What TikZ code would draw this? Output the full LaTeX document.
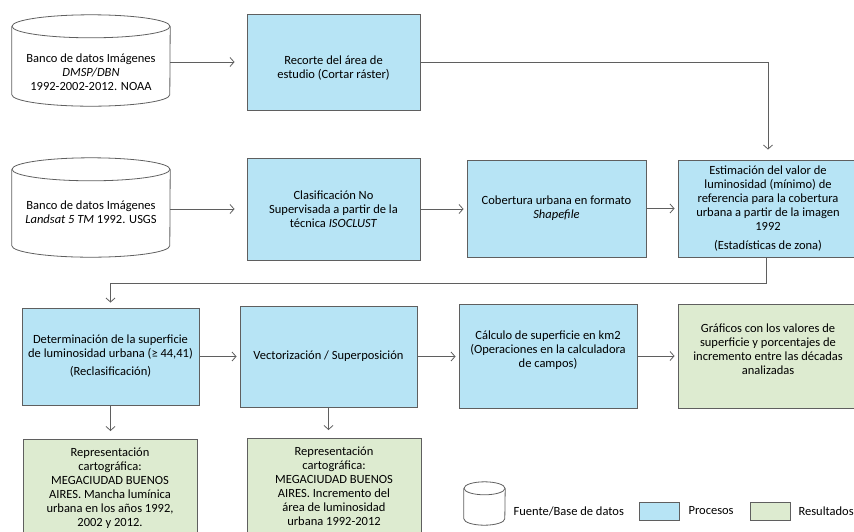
\documentclass[tikz,border=0pt]{standalone}
\usepackage{fontspec}
\setmainfont{Carlito}
\usetikzlibrary{arrows.meta}
\definecolor{procblue}{RGB}{183,228,245}
\definecolor{resgreen}{RGB}{221,235,208}
\definecolor{edgegray}{RGB}{95,95,95}

% cilindro de base de datos alrededor de un nodo: nombre, radio x, radio y
\newcommand\dbdraw[3]{%
  \draw[dbline] ([yshift=#3pt]#1.north) ellipse[x radius=#2pt, y radius=#3pt];
  \draw[dbline] ([yshift=#3pt]#1.north west) -- ([yshift=#3pt]#1.south west)
    arc[start angle=180, end angle=360, x radius=#2pt, y radius=#3pt] -- ([yshift=#3pt]#1.north east);
}

\begin{document}
\begin{tikzpicture}[x=1pt, y=-1pt, >={Straight Barb[length=4pt,width=9pt]}, font=\fontsize{12.5}{14}\selectfont,
  proc/.style={draw=edgegray, fill=procblue, line width=0.9pt, align=center, inner sep=2pt},
  res/.style={draw=edgegray, fill=resgreen, line width=0.9pt, align=center, inner sep=8pt},
  db/.style={align=center, inner sep=0pt},
  dbline/.style={draw=edgegray, line width=0.8pt},
  link/.style={draw=edgegray, line width=0.8pt, ->}]

\useasboundingbox (0,0) rectangle (854,531);
\clip (0,0) rectangle (854,531);

%fuentes
\node[db, minimum width=158pt, minimum height=68pt] (dmsp) at (91,72) {Banco de datos Imágenes\\\textit{DMSP/DBN}\\1992-2002-2012. NOAA};
\dbdraw{dmsp}{79}{11.5}
\node[db, minimum width=158pt, minimum height=76pt] (landsat) at (91,219) {Banco de datos Imágenes\\\textit{Landsat 5 TM} 1992. USGS\\\mbox{}};
\dbdraw{landsat}{79}{11.5}

%procesos
\node[proc, minimum width=173pt, minimum height=96pt] (recorte) at (333.5,62) {\mbox{}\\[6pt]Recorte del área de\\estudio (Cortar ráster)};
\node[proc, minimum width=173pt, minimum height=102pt] (clasif) at (333.5,209) {Clasificación No\\Supervisada a partir de la\\técnica \textit{ISOCLUST}};
\node[proc, minimum width=179pt, minimum height=97pt] (cobert) at (556.5,208.5) {Cobertura urbana en formato\\\textit{Shapefile}};
\node[proc, minimum width=180pt, minimum height=97pt] (estim) at (768,208.5) {Estimación del valor de\\luminosidad (mínimo) de\\referencia para la cobertura\\urbana a partir de la imagen\\1992\\[5pt](Estadísticas de zona)};
\node[proc, minimum width=177pt, minimum height=97pt] (determ) at (110.5,356.5) {Determinación de la superficie\\de luminosidad urbana (≥ 44,41)\\[4pt](Reclasificación)};
\node[proc, minimum width=177pt, minimum height=101pt] (vector) at (328.5,356.5) {Vectorización / Superposición};
\node[proc, minimum width=178pt, minimum height=104pt] (calculo) at (548,356) {Cálculo de superficie en km2\\(Operaciones en la calculadora\\de campos)\\\mbox{}};

%resultados
\node[res, minimum width=180pt, minimum height=104pt] (graficos) at (768,356) {Gráficos con los valores de\\superficie y porcentajes de\\incremento entre las décadas\\analizadas\\\mbox{}};
\node[res, anchor=north, minimum width=174pt] (mancha) at (110,439) {Representación\\cartográfica:\\MEGACIUDAD BUENOS\\AIRES. Mancha lumínica\\urbana en los años 1992,\\2002 y 2012.};
\node[res, anchor=north, minimum width=174pt] (increm) at (334,438) {Representación\\cartográfica:\\MEGACIUDAD BUENOS\\AIRES. Incremento del\\área de luminosidad\\urbana 1992-2012};

%flechas
\draw[link, shorten >=12pt] (dmsp.east |- recorte.west) -- (recorte.west);
\draw[link, shorten >=10pt] (recorte.east) -| (estim.north);
\draw[link, shorten >=12pt] (landsat.east |- clasif.west) -- (clasif.west);
\draw[link, shorten >=3pt] (clasif.east) -- (clasif.east -| cobert.west);
\draw[link, shorten >=3pt] (cobert.east) -- (cobert.east -| estim.west);
\draw[link, shorten >=5pt] (estim.south) ++(-2,0) -- ++(0,26) -| (determ.north);
\draw[link, shorten >=3pt] (determ.east) -- (determ.east -| vector.west);
\draw[link, shorten >=3pt] (vector.east) -- (vector.east -| calculo.west);
\draw[link, shorten >=3pt] (calculo.east) -- (calculo.east -| graficos.west);
\draw[link, shorten >=8pt] (determ.south) -- (determ.south |- mancha.north);
\draw[link, shorten >=8pt] (vector.south) -- (vector.south |- increm.north);

%leyenda
\node[db, minimum width=41pt, minimum height=30pt] (legdb) at (484.5,510) {};
\dbdraw{legdb}{20.5}{6.5}
\node[anchor=west] (legdbtxt) at (510,511) {Fuente/Base de datos};
\node[proc, minimum width=40pt, minimum height=18pt] (legproc) at (659,511) {};
\node[anchor=west] (legproctxt) at (685,511) {Procesos};
\node[res, minimum width=40pt, minimum height=18pt, inner sep=0pt] (legres) at (770,511) {};
\node[anchor=west] (legrestxt) at (795,511) {Resultados};

\end{tikzpicture}
\end{document}
